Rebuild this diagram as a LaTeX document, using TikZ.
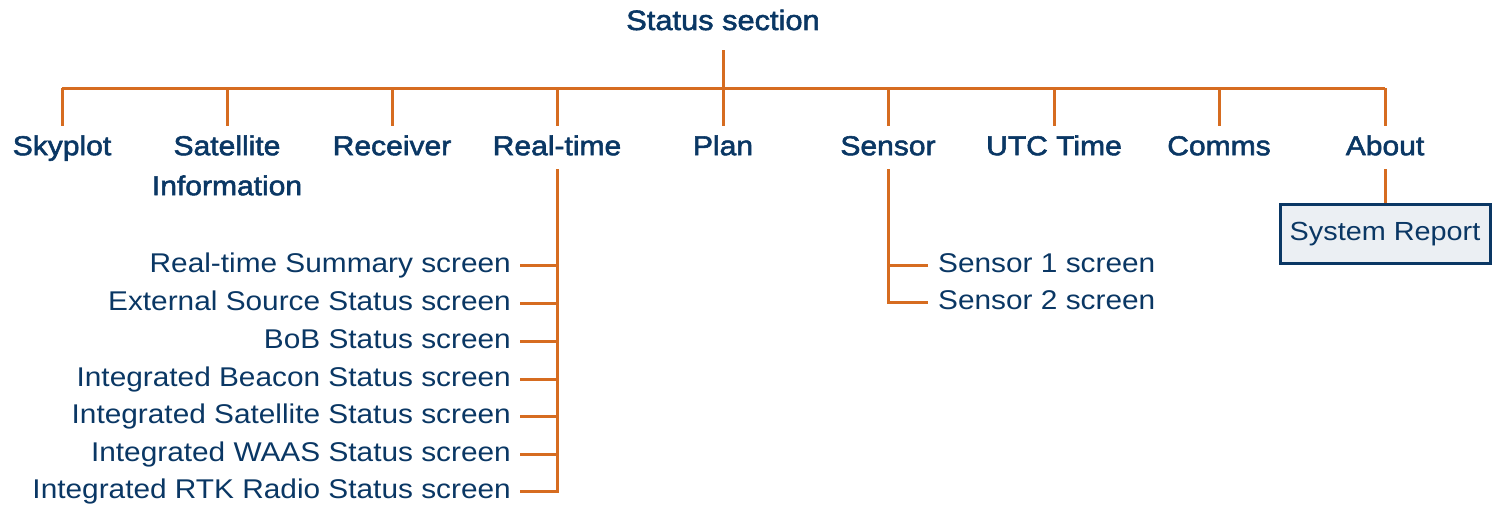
\documentclass[tikz,border=0pt]{standalone}
\usepackage{fontspec}
\setmainfont[FakeStretch=1.1]{Liberation Sans}
\newfontfamily\headfont[FakeBold=2,FakeStretch=1.1]{Liberation Sans}
\definecolor{txtblue}{RGB}{10,55,100}
\definecolor{linkor}{RGB}{214,108,32}
\definecolor{boxfill}{RGB}{235,239,243}
\tikzset{
  head/.style={font=\headfont\fontsize{27.3}{40}\selectfont, text=txtblue, inner xsep=2pt, inner ysep=8pt, text height=21pt, text depth=6pt, anchor=north, align=center},
  item/.style={font=\fontsize{27.1}{38}\selectfont, text=txtblue, inner ysep=0pt, text height=20pt, text depth=6pt},
  link/.style={draw=linkor, line width=3pt},
  reportbox/.style={draw=txtblue, line width=3pt, fill=boxfill, font=\fontsize{26.2}{34}\selectfont, text=txtblue, minimum width=210pt, minimum height=59pt, inner sep=0pt}
}
\begin{document}
\begin{tikzpicture}[x=1pt,y=-1pt]
\useasboundingbox (0,0) rectangle (1492,506);
% top
\node[head, font=\headfont\fontsize{28}{40}\selectfont, anchor=base, inner ysep=14pt] (status) at (723,30) {Status section};
\coordinate (bus) at (723,88);
% level 1
\node[head] (sky) at (62,126) {Skyplot};
\node[head, text height=61pt] (sat) at (227,126) {Satellite\\Information};
\node[head] (rec) at (392,126) {Receiver};
\node[head] (rt) at (557,126) {Real-time};
\node[head] (plan) at (723,126) {Plan};
\node[head] (sen) at (888,126) {Sensor};
\node[head] (utc) at (1054,126) {UTC Time};
\node[head] (comms) at (1219,126) {Comms};
\node[head] (about) at (1385,126) {About};
\draw[link] (status.south) -- (bus);
\draw[link] (sky.north |- bus) -- (about.north |- bus);
\foreach \n in {sky,sat,rec,rt,plan,sen,utc,comms,about}
  \draw[link] (\n.north |- bus) -- (\n.north);
% real-time items
\foreach \i/\y/\t in {1/272/Real-time Summary screen,
                     2/310/External Source Status screen,
                     3/348/BoB Status screen,
                     4/386/Integrated Beacon Status screen,
                     5/423/Integrated Satellite Status screen,
                     6/461/Integrated WAAS Status screen,
                     7/498/Integrated RTK Radio Status screen}
  \node[item, anchor=base east, inner xsep=9pt] (rt\i) at (520,\y) {\t};
\draw[link] (rt.south) -- (rt.south |- rt7.east) -- (rt7.east);
\foreach \i in {1,...,6}
  \draw[link] (rt\i.east) -- (rt\i.east -| rt.south);
% sensor items
\node[item, anchor=base west, inner xsep=10pt] (sen1) at (928,272) {Sensor 1 screen};
\node[item, anchor=base west, inner xsep=10pt] (sen2) at (928,309) {Sensor 2 screen};
\draw[link] (sen.south) -- (sen.south |- sen2.west) -- (sen2.west);
\draw[link] (sen1.west) -- (sen1.west -| sen.south);
% about
\node[reportbox] (report) at (1385,234) {System Report};
\draw[link] (about.south) -- (report.north);
\end{tikzpicture}
\end{document}
